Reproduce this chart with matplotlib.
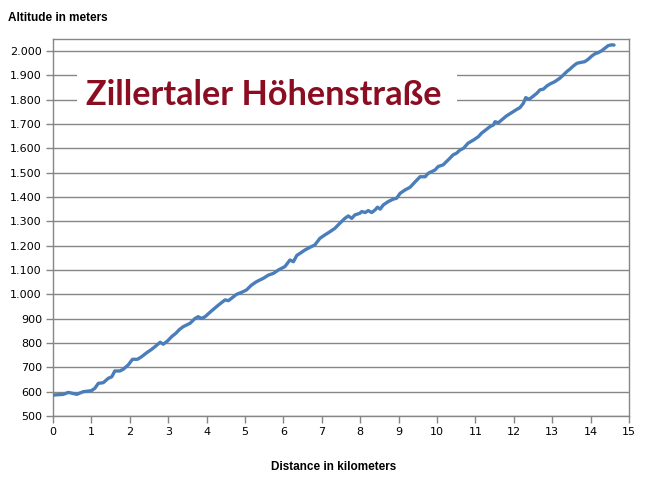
import matplotlib
matplotlib.use("Agg")
import matplotlib.pyplot as plt
from matplotlib.patches import Rectangle
from matplotlib.ticker import FuncFormatter, MultipleLocator

# Road profile: distance (km) and altitude (m)
distance_km = [
    0.00, 0.27, 0.40, 0.62, 0.79, 1.00, 1.09, 1.18, 1.31, 1.44, 1.53, 1.61,
    1.74, 1.83, 1.96, 2.07, 2.20, 2.31, 2.44, 2.57, 2.68, 2.79, 2.87, 2.98,
    3.09, 3.20, 3.29, 3.39, 3.57, 3.70, 3.78, 3.87, 3.96, 4.13, 4.31, 4.39,
    4.48, 4.57, 4.65, 4.78, 4.91, 5.04, 5.17, 5.30, 5.48, 5.61, 5.74, 5.87,
    6.04, 6.17, 6.26, 6.35, 6.43, 6.56, 6.69, 6.82, 6.95, 7.08, 7.21, 7.34,
    7.47, 7.60, 7.69, 7.78, 7.86, 7.99, 8.04, 8.13, 8.21, 8.30, 8.39, 8.45,
    8.52, 8.60, 8.73, 8.86, 8.95, 9.04, 9.17, 9.30, 9.43, 9.56, 9.69, 9.77,
    9.86, 9.95, 10.03, 10.16, 10.29, 10.42, 10.51, 10.60, 10.69, 10.81,
    10.95, 11.08, 11.16, 11.29, 11.38, 11.47, 11.51, 11.60, 11.68, 11.81,
    11.94, 12.08, 12.16, 12.25, 12.31, 12.40, 12.51, 12.60, 12.68, 12.77,
    12.86, 12.94, 13.07, 13.20, 13.29, 13.38, 13.46, 13.55, 13.64, 13.72,
    13.85, 13.94, 14.03, 14.11, 14.20, 14.29, 14.37, 14.46, 14.55, 14.61,
]
altitude_m = [
    586, 589, 597, 589, 600, 604, 614, 634, 637, 655, 661, 685,
    685, 692, 710, 733, 733, 744, 760, 774, 788, 803, 795, 808,
    826, 840, 855, 867, 881, 901, 908, 901, 908, 932, 956, 966,
    977, 974, 984, 1000, 1008, 1018, 1038, 1052, 1066, 1079, 1086, 1100,
    1114, 1141, 1134, 1160, 1168, 1182, 1193, 1203, 1230, 1244, 1257, 1271,
    1292, 1312, 1322, 1312, 1326, 1333, 1340, 1336, 1344, 1336, 1347, 1358,
    1350, 1367, 1381, 1391, 1395, 1415, 1429, 1440, 1462, 1483, 1483, 1497,
    1504, 1511, 1525, 1532, 1552, 1573, 1580, 1593, 1600, 1621,
    1634, 1648, 1662, 1678, 1689, 1696, 1709, 1705, 1716, 1733,
    1746, 1760, 1767, 1785, 1808, 1801, 1815, 1826, 1840, 1843,
    1856, 1864, 1874, 1888, 1901, 1915, 1925, 1938, 1949, 1952,
    1956, 1966, 1979, 1988, 1993, 2001, 2011, 2022, 2025, 2024,
]

title = "Zillertaler Höhenstraße"
x_label = "Distance in kilometers"
y_label = "Altitude in meters"

W, H = 649, 480
fig = plt.figure(figsize=(W / 100, H / 100), dpi=100)
fig.patch.set_facecolor("white")

left, right, top, bottom = 53, 629, 39, 416
ax = fig.add_axes([left / W, 1 - bottom / H, (right - left) / W, (bottom - top) / H])

grid_col = "#868686"
ax.plot(distance_km, altitude_m, color="#4A7EBB", lw=2.4, solid_capstyle="round",
        solid_joinstyle="round", zorder=3)

ax.set_xlim(0, 15)
ax.set_ylim(500, 2049)
ax.xaxis.set_major_locator(MultipleLocator(1))
ax.set_yticks(range(500, 2001, 100))
ax.yaxis.set_major_formatter(FuncFormatter(lambda v, p: f"{int(v):,}".replace(",", ".")))

ax.set_axisbelow(True)
ax.yaxis.grid(True, color=grid_col, lw=1.0)
for s in ax.spines.values():
    s.set_color(grid_col)
    s.set_linewidth(1.0)
ax.tick_params(axis="both", direction="out", length=5, width=1.0, color=grid_col,
               labelsize=8, labelcolor="black", pad=3)
for lab in ax.get_xticklabels() + ax.get_yticklabels():
    lab.set_fontfamily("DejaVu Sans")

# Title panel over the gridlines
ax.add_patch(Rectangle(((77 - left) / (right - left), (bottom - 116) / (bottom - top)),
                       (457 - 77) / (right - left), (116 - 60) / (bottom - top),
                       transform=ax.transAxes, facecolor="white", edgecolor="none",
                       zorder=1))
ax.text((263.5 - left) / (right - left), (bottom - 95) / (bottom - top), title,
        transform=ax.transAxes, ha="center", va="center", fontsize=24.7,
        fontfamily="Lato", fontweight="bold", color="#8B0D22", zorder=2)

fig.text(8 / W, 1 - 18 / H, y_label, ha="left", va="center", fontsize=8.5,
         fontfamily="Liberation Sans", fontweight="bold")
fig.text(334 / W, 1 - 467 / H, x_label, ha="center", va="center", fontsize=8.5,
         fontfamily="Liberation Sans", fontweight="bold")

fig.savefig("out.png", dpi=100)
